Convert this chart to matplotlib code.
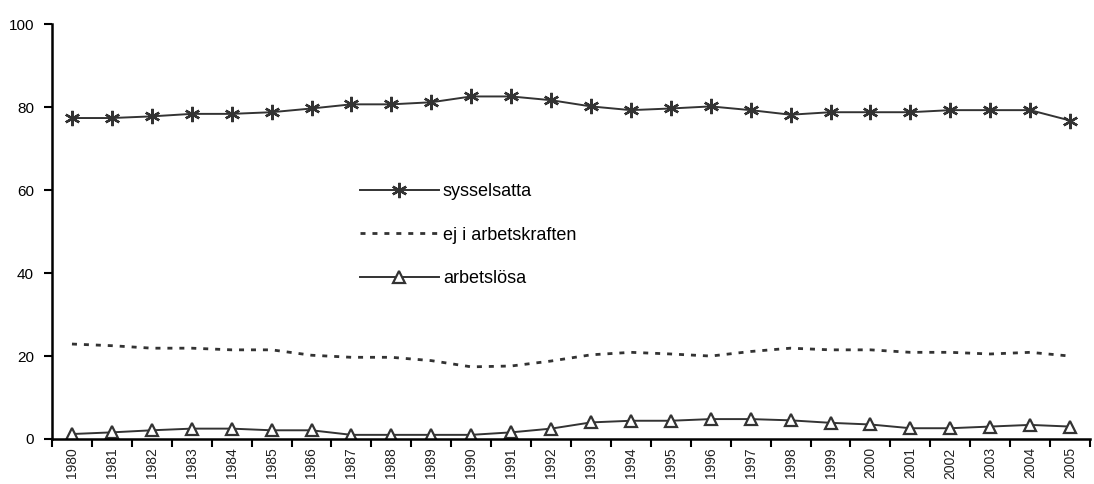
import matplotlib
matplotlib.use("Agg")
import matplotlib.pyplot as plt
import numpy as np

plt.rcParams['font.family'] = ['Liberation Sans', 'DejaVu Sans']

years = [str(y) for y in range(1980, 2006)]
sysselsatta = [77.4, 77.4, 77.8, 78.4, 78.4, 78.8, 79.7, 80.7, 80.7, 81.2, 82.6, 82.6, 81.7,
               80.2, 79.3, 79.7, 80.2, 79.3, 78.2, 78.8, 78.8, 78.8, 79.3, 79.3, 79.3, 76.8]
ej_i_arbetskraften = [22.9, 22.5, 21.9, 21.9, 21.5, 21.5, 20.2, 19.7, 19.7, 18.9, 17.4, 17.6, 18.8,
                      20.3, 20.9, 20.5, 20.0, 21.1, 21.9, 21.5, 21.5, 20.9, 20.9, 20.5, 20.9, 20.0]
arbetslosa = [1.2, 1.6, 2.1, 2.5, 2.5, 2.1, 2.1, 1.0, 1.0, 1.0, 1.0, 1.6, 2.5,
              4.0, 4.4, 4.4, 4.8, 4.8, 4.5, 3.9, 3.5, 2.6, 2.6, 3.0, 3.4, 3.0]
labels = ["sysselsatta", "ej i arbetskraften", "arbetslösa"]
yticks = [0, 20, 40, 60, 80, 100]

col = "#333333"
fig = plt.figure(figsize=(10.94, 4.84), dpi=100)
ax = fig.add_axes([52/1094, 1-439/484, (1090-52)/1094, (439-24.3)/484])

x = np.arange(len(years))
ax.plot(x, sysselsatta, color=col, lw=1.4, marker=(6, 2, 0), markersize=11,
        markeredgewidth=1.7, label=labels[0])
ax.plot(x, ej_i_arbetskraften, color=col, lw=2.0, linestyle=(0, (1.8, 2.5)), label=labels[1])
ax.plot(x, arbetslosa, color=col, lw=1.4, marker='^', markersize=8.5,
        markerfacecolor='white', markeredgecolor=col, markeredgewidth=1.6, label=labels[2])

ax.set_xlim(-0.5, len(years) - 0.5)
ax.set_ylim(0, 100)
ax.set_yticks(yticks)
ax.set_yticklabels([str(v) for v in yticks], fontsize=11)
ax.tick_params(axis='y', direction='out', length=6, width=1.5, pad=7, colors='black')

ax.set_xticks(np.arange(-0.5, len(years)), minor=False)
ax.set_xticklabels([])
ax.set_xticks(x, minor=True)
ax.set_xticklabels(years, minor=True, rotation=90, fontsize=10, color='#222222')
ax.tick_params(axis='x', which='major', direction='out', length=6, width=1.5)
ax.tick_params(axis='x', which='minor', length=0, pad=6)

for s in ['top', 'right']:
    ax.spines[s].set_visible(False)
for s in ['left', 'bottom']:
    ax.spines[s].set_linewidth(1.8)
    ax.spines[s].set_color('black')

leg = ax.legend(loc='upper left', bbox_to_anchor=((360-52)/1038, (439-183)/414.7),
                frameon=False, fontsize=13, handlelength=4.37, handletextpad=0.22,
                labelspacing=1.48, borderpad=0, borderaxespad=0)

fig.savefig("out.png", dpi=100)
